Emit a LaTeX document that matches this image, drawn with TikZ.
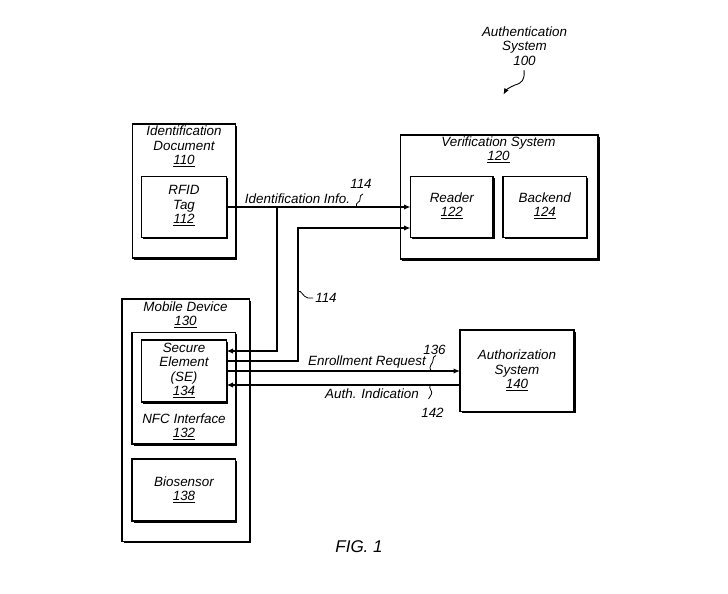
\documentclass[tikz,border=0pt]{standalone}
\usepackage{fontspec}
\setmainfont{Liberation Sans}
\usetikzlibrary{arrows.meta,calc}
\begin{document}
\begin{tikzpicture}[x=1pt,y=-1pt,
  bx/.style={draw=black, fill=white, line width=1.4pt, inner sep=0pt, outer sep=0pt,
    anchor=north west,
    preaction={fill=black, transform canvas={shift={(1.7pt,-1.7pt)}}}},
  txt/.style={font=\fontsize{13.4}{14.3}\selectfont\itshape, align=center, inner sep=0pt},
  conn/.style={line width=1.9pt},
  arr/.style={conn, -{Latex[length=6.5pt,width=5.5pt]}},
  sq/.style={line width=0.8pt}]
\useasboundingbox (0,0) rectangle (728,594);
\fill[white] (0,0) rectangle (728,594);

% boxes
\node[bx, minimum width=103pt, minimum height=134pt] (iddoc) at (132.5,124) {};
\node[bx, minimum width=85pt, minimum height=61pt] (rfid) at (141.5,176.5) {};
\node[bx, minimum width=197.5pt, minimum height=124pt] (ver) at (400.5,135) {};
\node[bx, minimum width=82.5pt, minimum height=61pt] (reader) at (410.5,176.5) {};
\node[bx, minimum width=83.5pt, minimum height=61pt] (backend) at (503,176.5) {};
\node[bx, minimum width=127.5pt, minimum height=242.5pt] (mobile) at (122,299) {};
\node[bx, minimum width=103.5pt, minimum height=111.5pt] (nfc) at (132,332.5) {};
\node[bx, minimum width=85pt, minimum height=62pt] (se) at (141.5,340) {};
\node[bx, minimum width=103.5pt, minimum height=62pt] (bio) at (132,459) {};
\node[bx, minimum width=114pt, minimum height=81.5pt] (auth) at (460,330) {};

% texts
\node[txt] (tiddoc) at (184,146.5) {Identification\\Document\\\underline{110}};
\node[txt] (trfid) at (184,205.5) {RFID\\Tag\\\underline{112}};
\node[txt] (tver) at (498.5,149.5) {Verification System\\\underline{120}};
\node[txt] (treader) at (451.75,205.5) {Reader\\\underline{122}};
\node[txt] (tbackend) at (544.75,205.5) {Backend\\\underline{124}};
\node[txt] (tmobile) at (185.5,315) {Mobile Device\\\underline{130}};
\node[txt] (tse) at (184,370.5) {Secure\\Element\\(SE)\\\underline{134}};
\node[txt] (tnfc) at (184,427) {NFC Interface\\\underline{132}};
\node[txt] (tbio) at (184,490) {Biosensor\\\underline{138}};
\node[txt] (tauth) at (517,370.5) {Authorization\\System\\\underline{140}};
\node[txt] (tsys) at (524.5,46) {Authentication\\System\\100};
\node[txt, font=\fontsize{17}{19}\selectfont\itshape] (fig) at (359,546.5) {FIG. 1};

% connector helpers
\coordinate (k1) at (277,0);
\coordinate (k2) at (298,0);
\coordinate (s1) at ([yshift=20pt]se.east);
\coordinate (s2) at ([yshift=10pt]se.east);
\coordinate (s4) at ([yshift=-14pt]se.east);
\coordinate (r2) at ([yshift=-21pt]reader.west);

% connectors
\draw[arr] (rfid.east) -- (rfid.east -| reader.west);
\draw[arr] (k1 |- rfid.east) |- (s1);
\draw[arr] (s2) -| (k2 |- r2) -- (r2);
\draw[arr] (se.east) -- (se.east -| auth.west);
\draw[arr] (s4 -| auth.west) -- (s4);

% labels on connectors
\node[txt] (lidinfo) at (297.5,198.5) {Identification Info.};
\node[txt] (l114a) at (361,183.5) {114};
\draw[sq] (356.5,207) .. controls (355,201) and (361,203) .. (360,199) .. controls (359.3,196.5) and (361,194.5) .. (363,194);
\node[txt] (l114b) at (326,298) {114};
\draw[sq] (298,291.5) .. controls (301,289) and (303,297.5) .. (308,298) -- (313,298);
\node[txt] (lenroll) at (367,362.5) {Enrollment Request};
\node[txt] (l136) at (434.5,349.5) {136};
\draw[sq] (431.5,371) .. controls (427,366) and (434,363) .. (433,360) .. controls (432.5,358) and (434,356) .. (436,355.5);
\node[txt] (lauthind) at (372,394) {Auth. Indication};
\node[txt] (l142) at (432.5,412.5) {142};
\draw[sq] (430,385.5) .. controls (428.5,389) and (433,391) .. (431.5,394) .. controls (430.5,396) and (429,398) .. (428.5,399);

% reference arrow
\draw[line width=0.9pt, -{Latex[length=6pt,width=5pt]}] (524,70) .. controls (525,80) and (522,83) .. (515,85) .. controls (510,87) and (506,90) .. (503.5,94.5);
\end{tikzpicture}
\end{document}
